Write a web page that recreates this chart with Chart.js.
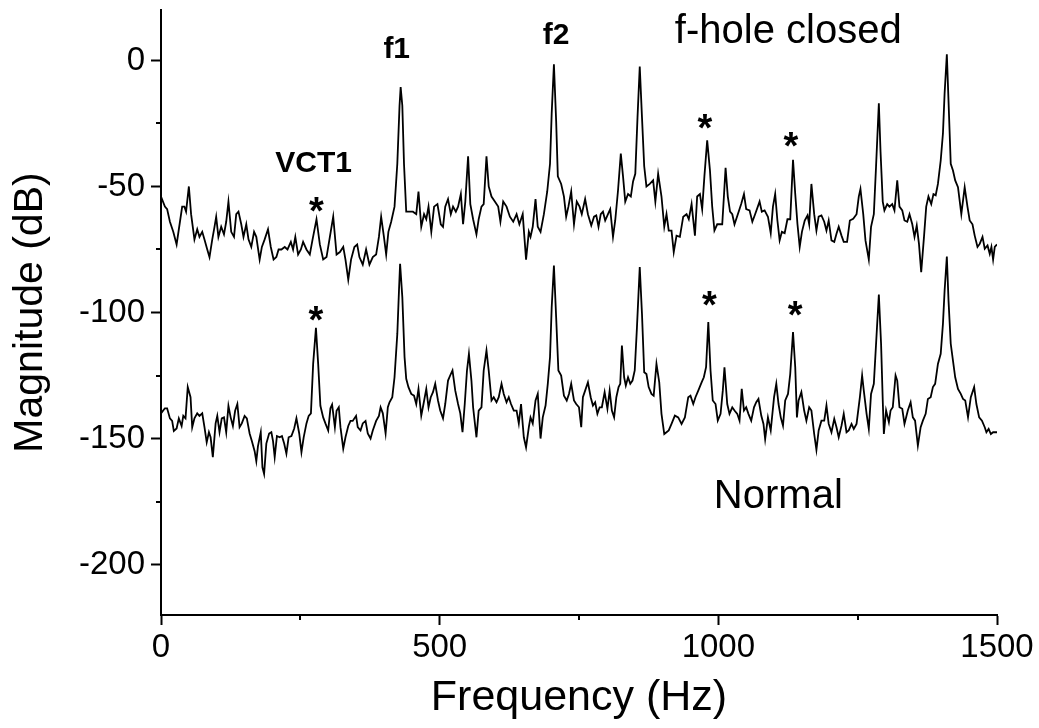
<!DOCTYPE html>
<html>
<head>
<meta charset="utf-8">
<script src="https://cdn.jsdelivr.net/npm/chart.js@4.4.1/dist/chart.umd.min.js"></script>
<style>
html, body { margin:0; padding:0; background:#fff; }
#wrap { width:1039px; height:728px; position:relative; }
</style>
</head>
<body>
<div id="wrap"><canvas id="spectrum"></canvas></div>
<script>
// f-hole closed spectrum (Hz / dB)
const closedHz = [
    0,7,11,16,22,28,34,38,42,45,
    50,54,60,65,69,74,78,83,87,92,
    96,99,103,108,113,117,121,126,131,135,
    139,144,148,153,157,162,167,171,177,181,
    186,192,197,202,207,211,216,222,227,233,
    237,241,246,251,255,261,267,272,279,285,
    291,297,303,309,315,321,327,331,336,341,
    347,352,356,362,368,374,380,386,391,395,
    400,404,408,413,419,424,428,430,433,436,
    440,446,452,458,462,467,472,476,480,485,
    490,496,502,506,510,515,520,524,529,533,
    538,542,546,551,555,560,566,570,575,579,
    584,588,593,599,605,609,614,620,626,632,
    638,643,649,652,655,660,663,667,672,676,
    681,687,693,698,701,705,709,712,718,723,
    727,731,736,741,746,751,755,
    761,766,772,777,781,785,789,793,797,802,
    806,811,815,820,825,829,833,838,843,847,
    851,855,859,863,867,871,877,883,887,892,
    898,903,907,911,916,920,925,931,937,943,
    947,952,958,962,967,971,975,980,985,989,
    993,998,1003,1007,1010,1013,1017,1021,1025,1029,
    1035,1041,1046,1050,1056,1061,1066,1074,1078,1083,
    1089,1094,1098,1102,1106,1110,1114,1119,1124,1129,
    1134,1138,1142,1146,1150,1155,1160,1163,1167,1172,
    1176,1180,1185,1190,1194,1198,1203,1208,1212,1216,
    1221,1225,1231,1236,1242,1248,1252,1255,1260,1264,
    1270,1274,1279,1283,1288,1291,1295,1298,1303,1307,
    1312,1316,1321,1325,1330,1334,1339,1343,1348,1352,
    1356,1360,1364,1369,1373,1377,1382,1386,1390,1394,
    1399,1403,1406,1410,1413,1417,1421,1425,1430,1436,
    1442,1447,1451,1456,1460,1465,1469,1474,1478,1483,
    1487,1490,1493,1496,1500
]
const closedDb = [
    -54,-58,-59,-64,-68,-73,-64,-58,-58,-60,
    -50,-61,-71,-67,-70,-68,-71,-75,-78,-71,
    -66,-62,-70,-66,-69,-64,-56,-68,-70,-61,
    -60,-65,-70,-65,-71,-74,-68,-70,-79,-74,
    -71,-67,-74,-79,-78,-75,-75,-74,-75,-72,
    -75,-70,-77,-75,-72,-75,-77,-71,-63,-73,
    -79,-78,-70,-62,-77,-76,-74,-79,-87,-79,
    -74,-73,-78,-81,-75,-81,-78,-77,-70,-62,
    -70,-77,-68,-64,-58,-41,-18,-10.6,-18,-41,
    -60,-60,-60,-61,-52,-66,-61,-63,-58,-68,
    -58,-57,-65,-66,-58,-55,-61,-58,-60,-58,
    -53,-65,-56,-38,-57,-63,-69,-63,-58,-57,
    -38,-50,-54,-56,-58,-64,-56,-58,-62,-64,
    -61,-65,-61,-70,-79,-68,-70,-66,-55,-66,
    -68,-61,-52,-41,-21,-1.5,-24,-46,-49,-54,
    -62,-58,-52,-65,-56,-58,-61,
    -55,-61,-65.5,-62,-61.5,-66,-61,-60,-63.5,-61,
    -59,-70,-63.5,-51.6,-37,-46,-56,-53,-54,-48,
    -45,-22.5,-2.4,-22.5,-42,-50,-49,-47.6,-56,-45,
    -54,-66,-61,-67.5,-67.5,-76,-69.5,-70,-62,-61,
    -63,-57,-69.5,-54,-53,-59,-46,-31.7,-43.7,-58,
    -67.5,-65,-65,-65,-54,-42.6,-54,-60,-61,-65,
    -61,-57,-53,-59,-59.5,-64,-61,-56,-60,-59.5,
    -62,-68.5,-58,-53,-63.5,-71.4,-68,-68.5,-63,-63,
    -39.4,-53,-65,-74,-68,-63.5,-61.5,-65,-49,-61,
    -67.5,-62,-61.5,-64,-67.5,-63.5,-71.4,-72,-68.8,-66,
    -69.5,-72,-72,-63.5,-62.8,-61,-54,-51,-61,-71.4,
    -79,-66,-61,-42,-17,-36,-56,-59.5,-57,-58,
    -57,-59.5,-47.6,-58,-59.5,-63.5,-64,-61,-65,-70,
    -65.5,-72.8,-84,-70,-58,-54,-57,-53,-53.5,-49,
    -39.7,-29,-13,2.4,-16,-41,-43.7,-47.6,-50.3,-61,
    -50.3,-58,-63.5,-65,-69.5,-74,-72.8,-70,-74.7,-73.4,
    -76.7,-74,-79,-74,-73
]

// normal spectrum (Hz / dB)
const normalHz = [
    0,7,11,16,20,23,28,32,37,40,
    44,48,53,56,60,65,69,74,78,82,
    86,89,93,98,101,105,109,113,117,121,
    125,129,133,137,141,145,150,154,159,163,
    168,171,174,179,182,185,189,194,198,201,
    204,208,213,217,221,225,229,234,239,243,
    248,252,256,261,265,269,273,278,282,286,
    291,295,300,304,307,312,315,319,322,327,
    331,336,340,344,350,353,358,362,367,371,
    376,380,386,391,394,398,403,407,410,415,
    419,424,427,429,433,437,440,444,449,454,
    458,462,467,471,476,480,484,488,492,497,
    501,506,510,515,520,523,528,533,537,541,
    545,549,552.5,557,560,566,570,575,579,584,
    588,593,597,602,606,611,615,620,624,628,
    633,638,642,646,651,655,660,663,667,672,
    676,681,685,690,694,698,701,705,709,713,
    718,723,728,732,736,741,745,750,754,
    757,761,766,771,775,779,783,787,791,796,
    801,805,809,813,817,821,824,827,831,834,
    838,842,846,850,854,859,863,867,871,875,
    880,884,889,894,898,903,907,911,916,922,
    928,934,940,946,950,955,959,964,970,974,
    978,982,986,990,995,999,1004,1008,1011,1016,
    1020,1025,1029,1034,1038,1042,1046,1050,1054,1059,
    1064,1068,1072,1077,1081,1084,1089,1094,1100,1104,
    1108,1112,1116,1120,1125,1129,1134,1138,1141,1144,
    1149,1154,1158,1163,1167,1172,1176,1180,1185,1190,
    1194,1198,1203,1208,1212,1216,1221,1225,1230,1234,
    1239,1243,1248,1254,1258,1261,1266,1270,1274,1279,
    1284,1288,1292,1295,1297,1301,1306,1309,1313,1318,
    1321,1325,1330,1334,1340,1345,1349,1353,1358,1363,
    1367,1372,1376,1381,1385,1389,1394,1399,1403,1406,
    1410,1413,1417,1421,1425,1430,1435,1439,1443,1448,
    1453,1459,1463,1468,1473,1478,1481,1485,1489,1493,
    1500
]
const normalDb = [
    -140,-138,-138,-142,-143,-147,-146,-142,-145,-141,
    -142,-129.6,-133.6,-145.5,-142,-140,-141,-140,-145.5,-151.5,
    -147.5,-149.5,-157.4,-144,-141,-147.5,-142,-141.6,-147.5,-137,
    -141.6,-145,-139,-136.3,-145.5,-144,-141,-142,-148,-151,
    -155,-159,-153,-147.5,-161.4,-164,-152,-148,-147.5,-151,
    -157.4,-149,-149.5,-149,-152,-156,-149.5,-149,-146,-142,
    -148,-155.4,-149.5,-144,-141,-140,-120.4,-106.1,-120.4,-137,
    -141.6,-144,-146.8,-138,-136.5,-145.5,-139,-137.6,-145.5,-154,
    -149.5,-145,-143,-143,-141,-145.5,-146.8,-144,-143,-148,
    -150,-146.8,-143,-141,-137.6,-140,-148,-137.6,-135.6,-133.6,
    -125.7,-108.5,-91.3,-80.7,-93.9,-117.7,-126.3,-129.6,-132.3,-133,
    -136.3,-130.3,-140.9,-136.3,-130.3,-137.6,-133.6,-131.6,-128.3,-134.9,
    -138.9,-142,-136.3,-127,-124.4,-123,-131,-136.3,-140,-147.5,
    -136.3,-123,-116.4,-127,-137.6,-149.5,-138.9,-137.6,-123,-115.1,
    -123,-134.9,-133.6,-135.6,-133.6,-128.3,-132.3,-135.6,-133.6,-136.3,
    -138.9,-138.9,-144,-136.3,-149.5,-153.5,-145.5,-141.6,-144,-134.9,
    -132.3,-150,-141.6,-136.9,-128.3,-117.7,-97.9,-81.4,-101.9,-123,
    -125,-133,-134.9,-132.3,-128.3,-134.9,-136.3,-137.6,-145.5,
    -133.6,-131,-127.7,-133.6,-136.9,-135.6,-140.2,-137.6,-137.6,-131.6,
    -138.2,-131,-138.9,-141.6,-133.6,-129.6,-128.3,-113.1,-125.7,-129,
    -125.7,-128.3,-127,-123,-105.8,-82,-100.5,-123.7,-124.4,-129.6,
    -132.3,-133,-120.4,-127.7,-140.2,-148.2,-147.5,-146.8,-144.2,-140.9,
    -141.6,-144.2,-141.6,-133.6,-133,-136.3,-133.6,-131,-127.7,-125.7,
    -121.7,-103.8,-123,-134.9,-136.3,-142.9,-140.2,-131,-121.7,-136.3,
    -140.2,-137.6,-138.9,-140.2,-142.9,-130.3,-138.9,-137.6,-140.2,-142.9,
    -137.6,-135.6,-134.3,-140.9,-144.2,-150.2,-141.6,-146.8,-133.6,-128.3,
    -136.3,-141.6,-144.9,-134.9,-132.3,-124.4,-107.8,-121.7,-141.6,-134.9,
    -131.6,-138.9,-142.9,-137.6,-138.9,-148.2,-154.5,-146.8,-142.9,-142.9,
    -136.9,-144.2,-147.5,-142.2,-145.5,-149.5,-144.9,-140.2,-147.5,-146.8,
    -144.2,-146.2,-144.2,-133.6,-125,-131,-140.2,-146.2,-132.3,-128.3,
    -108.5,-92.9,-112.4,-134.9,-148.2,-138.9,-143.5,-138.9,-137.6,-125,
    -127,-137.6,-138.2,-144.2,-138.9,-135.6,-141.6,-142.9,-152.8,-145.5,
    -142.9,-140.2,-134.3,-133.6,-129.6,-128.3,-120.4,-116.4,-104.5,-91.3,
    -77.8,-95.2,-112.4,-119.1,-125.7,-130.3,-132.3,-134.3,-134.9,-141.6,
    -133.6,-129.6,-136.3,-141.6,-142.9,-145.5,-147.5,-146.2,-148.2,-147.5,
    -147.5
]

const xTicks = [0, 500, 1000, 1500]
const yTicks = [-200, -150, -100, -50, 0]
const xMinorTicks = [250, 750, 1250]
const yMinorTicks = [-175, -125, -75, -25]

// text annotations, anchored at their left baseline (Hz, dB)
const noteText = ['f-hole closed', 'Normal', 'f1', 'f2', 'VCT1']
const noteHz = [922, 992, 399, 685, 205]
const noteDb = [7.1, -177.4, 1.1, 6.6, -44.3]
const noteFont = ['40px', '40px', 'bold 30px', 'bold 30px', 'bold 30px']

// asterisks marking the VCT peaks (centre, Hz / dB)
const starHz = [279, 278, 976, 1130, 984, 1138]
const starDb = [-56.2, -99.2, -23.1, -30.4, -93.3, -97.6]

const FAMILY = '"Liberation Sans", Arial, sans-serif'
Chart.defaults.font.family = FAMILY
Chart.defaults.color = '#000'

const decorations = {
    id: 'decorations',
    afterDraw(chart) {
        const ctx = chart.ctx
        const x = chart.scales.x
        const y = chart.scales.y
        const area = chart.chartArea

        ctx.save()
        ctx.strokeStyle = '#000'
        ctx.lineWidth = 2

        xMinorTicks.forEach(v => {
            const px = Math.round(x.getPixelForValue(v))
            ctx.beginPath()
            ctx.moveTo(px, area.bottom)
            ctx.lineTo(px, area.bottom + 5)
            ctx.stroke()
        })

        yMinorTicks.forEach(v => {
            const py = Math.round(y.getPixelForValue(v))
            ctx.beginPath()
            ctx.moveTo(area.left, py)
            ctx.lineTo(area.left - 5, py)
            ctx.stroke()
        })

        ctx.fillStyle = '#000'
        ctx.textAlign = 'left'
        ctx.textBaseline = 'alphabetic'
        noteText.forEach((t, i) => {
            ctx.font = noteFont[i] + ' ' + FAMILY
            ctx.fillText(t, x.getPixelForValue(noteHz[i]), y.getPixelForValue(noteDb[i]))
        })

        const starSize = 38
        ctx.font = 'bold ' + starSize + 'px ' + FAMILY
        ctx.textAlign = 'center'
        starHz.forEach((v, i) => {
            ctx.fillText('*', x.getPixelForValue(v),
                y.getPixelForValue(starDb[i]) + starSize * 0.58)
        })
        ctx.restore()
    }
}

function toPoints(hz, db) {
    return hz.map((h, i) => ({ x: h, y: db[i] }))
}

new Chart(document.getElementById('spectrum'), {
    type: 'line',
    data: {
        datasets: [{
            label: 'f-hole closed',
            data: toPoints(closedHz, closedDb),
            borderColor: '#000',
            borderWidth: 1.8,
            pointRadius: 0,
            tension: 0
        }, {
            label: 'Normal',
            data: toPoints(normalHz, normalDb),
            borderColor: '#000',
            borderWidth: 1.8,
            pointRadius: 0,
            tension: 0
        }]
    },
    options: {
        responsive: true,
        maintainAspectRatio: false,
        animation: false,
        layout: { padding: { top: 10, right: 42, left: 0, bottom: 0 } },
        plugins: {
            legend: { display: false },
            tooltip: { enabled: false }
        },
        scales: {
            x: {
                type: 'linear',
                min: 0,
                max: 1500,
                afterBuildTicks: s => { s.ticks = xTicks.map(v => ({ value: v })) },
                afterFit: s => { s.height = 113 },
                grid: { drawOnChartArea: false, tickLength: 10, tickWidth: 2, tickColor: '#000' },
                border: { color: '#000', width: 2 },
                ticks: {
                    autoSkip: false,
                    maxRotation: 0,
                    padding: 3,
                    font: { size: 33 },
                    callback: v => String(v)
                },
                title: {
                    display: true,
                    text: 'Frequency (Hz)',
                    font: { size: 43 },
                    padding: { top: 0, bottom: 4 }
                }
            },
            y: {
                type: 'linear',
                min: -220,
                max: 20,
                afterBuildTicks: s => { s.ticks = yTicks.map(v => ({ value: v })) },
                afterFit: s => {
                    s.width = 161
                    s.paddingTop = 0
                    s.paddingBottom = 0
                },
                grid: { drawOnChartArea: false, tickLength: 10, tickWidth: 2, tickColor: '#000' },
                border: { color: '#000', width: 2 },
                ticks: {
                    autoSkip: false,
                    padding: 6,
                    font: { size: 33 },
                    callback: v => String(v)
                },
                title: {
                    display: true,
                    text: 'Magnitude (dB)',
                    font: { size: 41 },
                    padding: { top: 6, bottom: 0 }
                }
            }
        }
    },
    plugins: [decorations]
})
</script>
</body>
</html>
